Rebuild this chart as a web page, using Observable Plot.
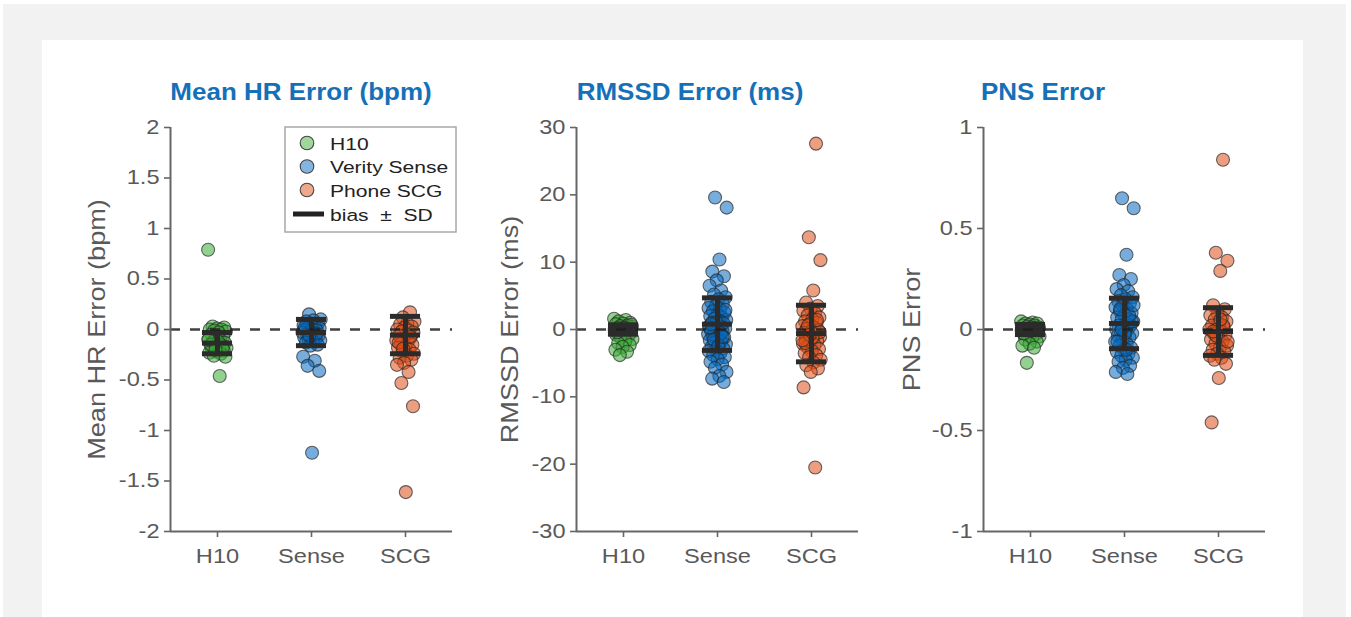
<!DOCTYPE html>
<html><head><meta charset="utf-8">
<script src="https://cdn.jsdelivr.net/npm/d3@7"></script>
<script src="https://cdn.jsdelivr.net/npm/@observablehq/plot@0.6"></script>
<style>
html,body{margin:0;padding:0;background:#fff;width:1351px;height:617px;overflow:hidden;font-family:'Liberation Sans',Arial,sans-serif;}
#bg{position:absolute;left:3px;top:4px;width:1343px;height:613px;background:#f2f2f2;}
#card{position:absolute;left:42px;top:40px;width:1261px;height:577px;background:#fff;}
.panel{position:absolute;top:100px;}
.panel svg{overflow:visible;}
#overlay{position:absolute;left:0;top:0;}
</style></head><body>
<div id="bg"></div><div id="card"></div>
<div id="p0" class="panel" style="left:42px"></div>
<div id="p1" class="panel" style="left:448px"></div>
<div id="p2" class="panel" style="left:855px"></div>
<script>
// ---------- data ----------
const devices = ["H10", "Sense", "SCG"];
const legendNames = ["H10", "Verity Sense", "Phone SCG"];
const titles = ["Mean HR Error (bpm)", "RMSSD Error (ms)", "PNS Error"];
const yLabels = ["Mean HR Error (bpm)", "RMSSD Error (ms)", "PNS Error"];

const hrH10 = [0.79, -0.46, 0.03, 0.02, 0.01, 0.0, 0.0, -0.01, -0.02, -0.03, -0.05, -0.07, -0.09, -0.1, -0.11, -0.12, -0.13, -0.14, -0.15, -0.16, -0.17, -0.18, -0.19, -0.2, -0.21, -0.22, -0.23, -0.24, -0.26, -0.27, -0.12, -0.15, -0.18, -0.2, -0.1];
const hrSense = [0.15, 0.1, 0.09, 0.08, 0.06, 0.05, 0.04, 0.03, 0.02, 0.01, 0.0, 0.0, -0.01, -0.02, -0.03, -0.04, -0.05, -0.06, -0.07, -0.08, -0.09, -0.1, -0.11, -0.12, -0.13, -0.15, -0.16, -0.27, -0.31, -0.36, -0.41, -1.22, 0.02, -0.04, -0.06];
const hrSCG = [0.17, 0.12, 0.08, 0.06, 0.05, 0.03, 0.02, 0.0, -0.01, -0.02, -0.03, -0.05, -0.06, -0.08, -0.1, -0.11, -0.12, -0.14, -0.15, -0.17, -0.18, -0.2, -0.22, -0.24, -0.26, -0.28, -0.3, -0.33, -0.35, -0.42, -0.53, -0.76, -1.61, -0.13, -0.07, -0.19];

const rmH10 = [1.6, 1.4, 1.2, 1.0, 0.9, 0.8, 0.6, 0.5, 0.4, 0.3, 0.2, 0.1, 0.0, -0.1, -0.2, -0.3, -0.5, -0.6, -0.8, -1.0, -1.2, -1.4, -1.7, -2.0, -2.3, -2.6, -3.0, -3.3, -3.8, 0.7, 0.2, -0.4];
const rmSense = [19.6, 18.1, 10.4, 8.6, 7.9, 7.3, 6.5, 5.8, 5.2, 4.8, 4.5, 4.1, 3.8, 3.5, 3.2, 3.0, 2.7, 2.5, 2.2, 2.0, 1.8, 1.6, 1.4, 1.2, 1.0, 0.9, 0.7, 0.5, 0.4, 0.2, 0.1, 0.0, -0.2, -0.3, -0.5, -0.7, -0.8, -1.0, -1.2, -1.4, -1.6, -1.8, -2.0, -2.2, -2.4, -2.6, -2.8, -3.0, -3.2, -3.5, -3.8, -4.1, -4.4, -4.8, -5.2, -5.7, -6.3, -6.9, -7.3, -7.8, 1.1, 0.3, -0.6, -1.5, 2.9, -2.5, 0.8, -1.1];
const rmSCG = [27.6, 13.7, 10.3, 5.8, 4.0, 3.5, 3.1, 2.8, 2.4, 2.1, 1.8, 1.5, 1.2, 1.0, 0.8, 0.5, 0.3, 0.1, -0.1, -0.3, -0.5, -0.7, -0.9, -1.1, -1.3, -1.5, -1.7, -1.9, -2.1, -2.3, -2.6, -2.9, -3.2, -3.5, -3.8, -4.1, -4.5, -4.9, -5.3, -5.8, -6.3, -8.6, -20.5, 0.6, -0.4, -1.2, -2.0, 1.4, -0.8, -1.6];

const pnsH10 = [0.04, 0.035, 0.03, 0.03, 0.025, 0.02, 0.02, 0.015, 0.01, 0.01, 0.005, 0.0, 0.0, -0.005, -0.01, -0.01, -0.015, -0.02, -0.02, -0.025, -0.03, -0.035, -0.04, -0.05, -0.06, -0.07, -0.08, -0.09, -0.165, 0.0, 0.01, -0.02];
const pnsSense = [0.65, 0.6, 0.37, 0.27, 0.25, 0.22, 0.2, 0.19, 0.17, 0.16, 0.15, 0.14, 0.13, 0.12, 0.11, 0.1, 0.09, 0.08, 0.07, 0.06, 0.05, 0.05, 0.04, 0.03, 0.02, 0.02, 0.01, 0.0, 0.0, -0.01, -0.02, -0.03, -0.03, -0.04, -0.05, -0.06, -0.07, -0.08, -0.09, -0.1, -0.11, -0.12, -0.13, -0.14, -0.15, -0.16, -0.18, -0.19, -0.21, -0.22, 0.1, 0.04, -0.02, -0.06, 0.07, 0.0, 0.12, -0.1];
const pnsSCG = [0.84, 0.38, 0.34, 0.29, 0.12, 0.1, 0.08, 0.07, 0.06, 0.05, 0.04, 0.03, 0.02, 0.01, 0.0, 0.0, -0.01, -0.02, -0.03, -0.04, -0.05, -0.06, -0.07, -0.08, -0.09, -0.1, -0.11, -0.12, -0.13, -0.14, -0.15, -0.17, -0.24, -0.46, 0.02, -0.03, -0.06, 0.05, -0.01];

const hrBias = [-0.135, -0.03, -0.055], hrSD = [0.105, 0.13, 0.185];
const rmBias = [0.0, 0.8, -0.6], rmSD = [0.7, 3.9, 4.2];
const pnsBias = [0.0, 0.03, -0.01], pnsSD = [0.025, 0.125, 0.118];

const hrTicks = [-2, -1.5, -1, -0.5, 0, 0.5, 1, 1.5, 2];
const rmTicks = [-30, -20, -10, 0, 10, 20, 30];
const pnsTicks = [-1, -0.5, 0, 0.5, 1];

// ---------- styles ----------
const fills = ["#3aac36", "#066abf", "#df4e17"];
const legendFills = ["#9fd79c", "#84b5e0", "#efa88c"];
const axisColor = "#666";
const textColor = "#595959";
const FONT = "'Liberation Sans', Arial, sans-serif";

function jitter(i, d) {
  return (((i * 0.6180339887 + d * 0.37) % 1) - 0.5) * 0.2;
}

function stretchTexts(svg, s) {
  svg.querySelectorAll("text").forEach(t => {
    if (t.closest('[aria-label="ylabel"]')) return;
    const tr = t.getAttribute("transform");
    if (tr) t.setAttribute("transform", tr + ` scale(${s},1)`);
    else {
      const x = +t.getAttribute("x") || 0, y = +t.getAttribute("y") || 0;
      t.setAttribute("transform", `translate(${x},${y}) scale(${s},1) translate(${-x},${-y})`);
    }
  });
}

function panel(values, bias, sd, yTicks, label, labelDx) {
  const yDomain = [yTicks[0], yTicks[yTicks.length - 1]];
  const pts = [];
  values.forEach((arr, d) => arr.forEach((v, i) => pts.push({d, x: d + 1 + jitter(i, d), v})));
  const bars = devices.map((_, d) => ({x: d + 1, b: bias[d], lo: bias[d] - sd[d], hi: bias[d] + sd[d]}));
  const caps = bars.flatMap(b => [b.lo, b.b, b.hi].map(y => ({x: b.x, y})));
  const svg = Plot.plot({
    width: 424, height: 491,
    marginLeft: 128, marginRight: 14, marginTop: 27, marginBottom: 60,
    style: {background: "transparent", fontFamily: FONT, overflow: "visible"},
    x: {domain: [0.5, 3.5], axis: null},
    y: {domain: yDomain, axis: null},
    marks: [
      ...devices.map((_, d) => Plot.dot(pts.filter(p => p.d === d), {
        x: "x", y: "v", r: 6.5, fill: fills[d], fillOpacity: 0.55,
        stroke: "#2a2a2a", strokeOpacity: 0.7, strokeWidth: 1.1
      })),
      Plot.ruleX(bars, {x: "x", y1: "lo", y2: "hi", stroke: "#2b2b2b", strokeWidth: 5}),
      Plot.ruleY(caps, {y: "y", x1: c => c.x - 0.16, x2: c => c.x + 0.16, stroke: "#2b2b2b", strokeWidth: 5}),
      Plot.ruleY([0], {stroke: "#1e1e1e", strokeOpacity: 0.85, strokeWidth: 2.3, strokeDasharray: "10,10"}),
      Plot.ruleX([0.5], {stroke: axisColor, strokeWidth: 2}),
      Plot.ruleY([yDomain[0]], {stroke: axisColor, strokeWidth: 2}),
      Plot.axisY({ticks: yTicks, tickFormat: t => String(t), tickSize: 6, tickPadding: 5,
        fontSize: 20, color: textColor, stroke: axisColor, strokeWidth: 1.6, label: null}),
      Plot.axisX({ticks: [1, 2, 3], tickFormat: t => devices[t - 1], tickSize: 6, tickPadding: 11,
        fontSize: 20, color: textColor, stroke: axisColor, strokeWidth: 1.6, label: null}),
      Plot.text([label], {frameAnchor: "left", textAnchor: "middle", rotate: -90, dx: labelDx,
        fontSize: 23, fill: textColor, ariaLabel: "ylabel"})
    ]
  });
  stretchTexts(svg, 1.18);
  return svg;
}

document.getElementById("p0").appendChild(panel([hrH10, hrSense, hrSCG], hrBias, hrSD, hrTicks, yLabels[0], -73));
document.getElementById("p1").appendChild(panel([rmH10, rmSense, rmSCG], rmBias, rmSD, rmTicks, yLabels[1], -66));
document.getElementById("p2").appendChild(panel([pnsH10, pnsSense, pnsSCG], pnsBias, pnsSD, pnsTicks, yLabels[2], -71));

// ---------- titles & legend overlay ----------
const ov = d3.select("body").append("svg").attr("id", "overlay").attr("width", 1351).attr("height", 617)
  .style("font-family", FONT);
const titleX = [301, 690, 1043];
titles.forEach((t, i) => {
  ov.append("text").attr("transform", `translate(${titleX[i]},100) scale(1.13,1)`)
    .attr("text-anchor", "middle").attr("font-weight", "bold").attr("font-size", 23)
    .attr("fill", "#1570b8").text(t);
});
const lg = ov.append("g");
lg.append("rect").attr("x", 285).attr("y", 127).attr("width", 171).attr("height", 105)
  .attr("fill", "#fff").attr("stroke", "#a8a8a8").attr("stroke-width", 1.5);
legendNames.forEach((n, i) => {
  const cy = 143 + i * 23.5;
  lg.append("circle").attr("cx", 307).attr("cy", cy).attr("r", 6.8)
    .attr("fill", legendFills[i]).attr("stroke", "#444").attr("stroke-width", 1.1);
  lg.append("text").attr("transform", `translate(330,${cy + 6.5}) scale(1.24,1)`)
    .attr("font-size", 17).attr("fill", "#222").text(n);
});
lg.append("line").attr("x1", 293).attr("x2", 324).attr("y1", 214).attr("y2", 214)
  .attr("stroke", "#222").attr("stroke-width", 5);
lg.append("text").attr("transform", "translate(330,220.5) scale(1.24,1)")
  .attr("font-size", 17).attr("fill", "#222").style("white-space", "pre").text("bias  ±  SD");
</script>
</body></html>
